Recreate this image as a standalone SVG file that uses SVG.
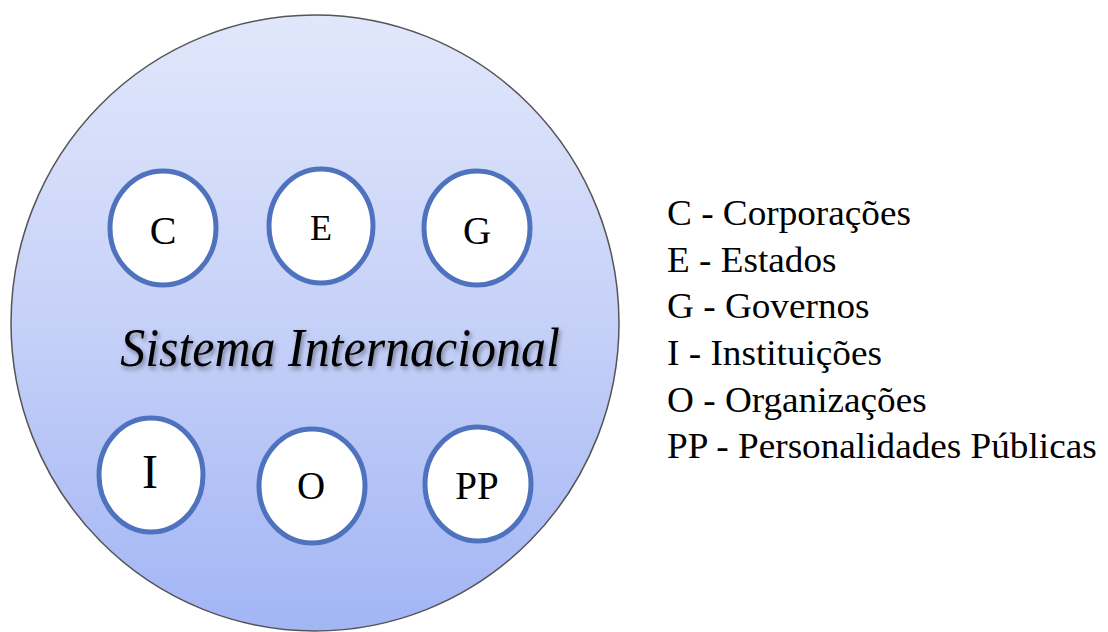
<svg xmlns="http://www.w3.org/2000/svg" width="1108" height="632" viewBox="0 0 1108 632">
  <defs>
    <linearGradient id="bg" x1="0" y1="0" x2="0" y2="1">
      <stop offset="0" stop-color="#e1e7fb"/>
      <stop offset="0.5" stop-color="#c6d1f8"/>
      <stop offset="1" stop-color="#a2b5f5"/>
    </linearGradient>
    <filter id="shadow" x="-10%" y="-30%" width="120%" height="160%">
      <feDropShadow dx="2" dy="3" stdDeviation="2.5" flood-color="#000" flood-opacity="0.4"/>
    </filter>
  </defs>
  <style>
    .node { fill: #ffffff; stroke: #4f72be; stroke-width: 5; }
    .lbl { font-family: "Liberation Serif", "Times New Roman", serif; fill: #000; text-anchor: middle; }
    .leg { font-family: "Liberation Serif", "Times New Roman", serif; font-size: 36px; fill: #000; }
    .title { font-family: "Liberation Serif", "Times New Roman", serif; font-style: italic; font-size: 54px; fill: #000; text-anchor: middle; }
  </style>
  <rect width="1108" height="632" fill="#ffffff"/>
  <g id="sistema">
    <ellipse cx="315" cy="323" rx="304" ry="308" fill="url(#bg)" stroke="#555" stroke-width="1.5"/>
    <g transform="translate(340,366) scale(0.925,1)">
      <text class="title" x="0" y="0" filter="url(#shadow)">Sistema Internacional</text>
    </g>
  </g>
  <g id="connectors"></g>
  <g id="node-C">
    <ellipse class="node" cx="163" cy="228" rx="53" ry="57"/>
    <text class="lbl" x="163" y="244" font-size="40">C</text>
  </g>
  <g id="node-E">
    <ellipse class="node" cx="321" cy="226" rx="52" ry="57"/>
    <text class="lbl" x="321" y="240" font-size="36">E</text>
  </g>
  <g id="node-G">
    <ellipse class="node" cx="477" cy="228" rx="53" ry="57"/>
    <text class="lbl" x="477" y="244" font-size="39">G</text>
  </g>
  <g id="node-I">
    <ellipse class="node" cx="151" cy="475" rx="52" ry="57"/>
    <text class="lbl" x="150" y="488" font-size="48">I</text>
  </g>
  <g id="node-O">
    <ellipse class="node" cx="312" cy="486" rx="53" ry="57"/>
    <text class="lbl" x="311" y="499" font-size="39">O</text>
  </g>
  <g id="node-PP">
    <ellipse class="node" cx="478" cy="484" rx="53" ry="57"/>
    <text class="lbl" x="477" y="499" font-size="39">PP</text>
  </g>
  <g id="legend" transform="translate(667,0) scale(1.034,1)">
    <text class="leg" x="0" y="225">C - Corporações</text>
    <text class="leg" x="0" y="272">E - Estados</text>
    <text class="leg" x="0" y="318">G - Governos</text>
    <text class="leg" x="0" y="365">I - Instituições</text>
    <text class="leg" x="0" y="412">O - Organizações</text>
    <text class="leg" x="0" y="458">PP - Personalidades Públicas</text>
  </g>
</svg>
